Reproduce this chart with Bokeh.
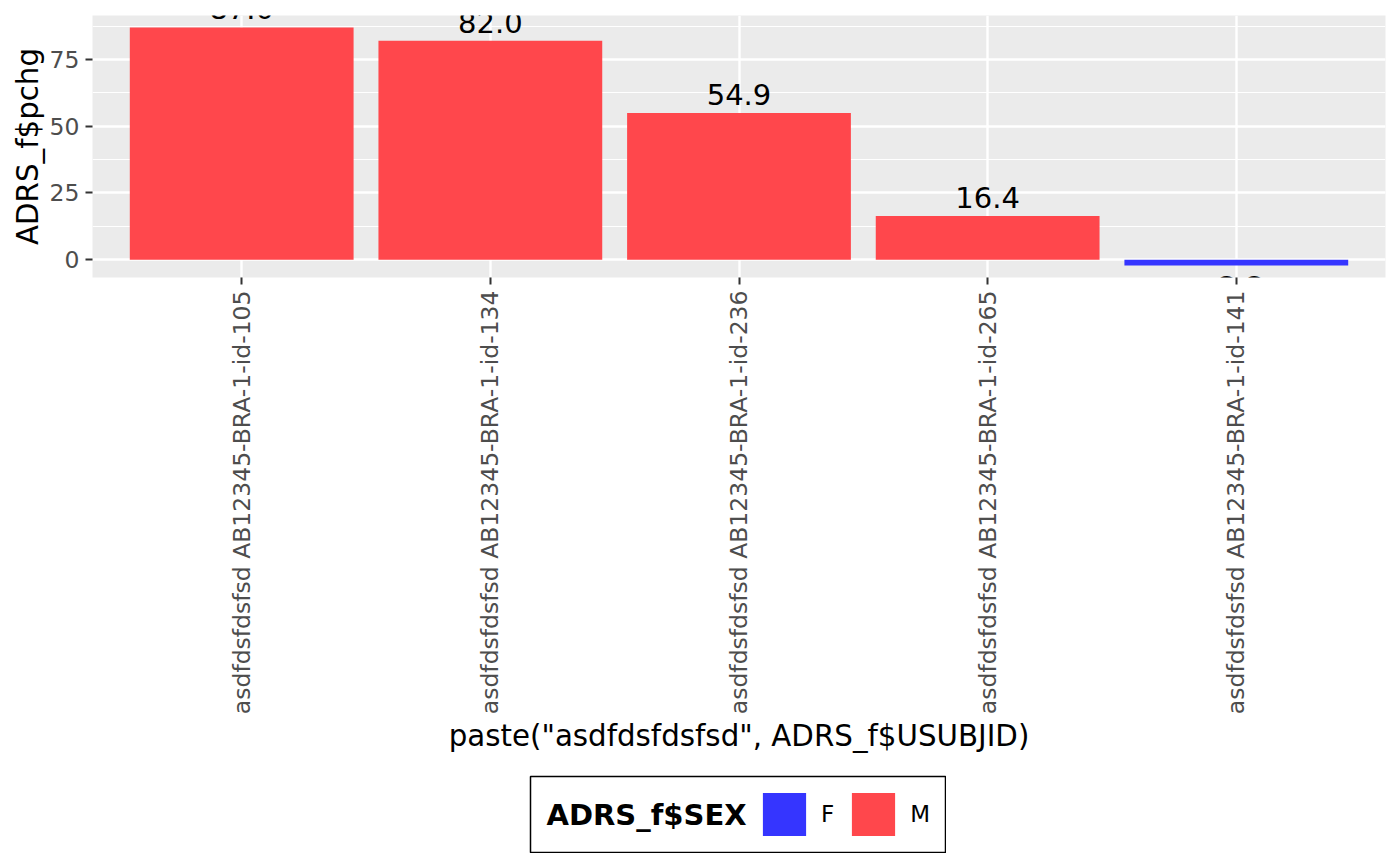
import numpy as np
from bokeh.plotting import figure
from bokeh.layouts import column, row
from bokeh.models import (ColumnDataSource, Range1d, FixedTicker, SingleIntervalTicker,
                          Legend, LegendItem, CDSView, GroupFilter, BooleanFilter, Label, Spacer)
from bokeh.core.properties import value
from bokeh.embed import file_html
from bokeh.resources import INLINE

# ---------------- data ----------------
prefix = "asdfdsfdsfsd"
subjects = ["AB12345-BRA-1-id-105", "AB12345-BRA-1-id-134", "AB12345-BRA-1-id-236",
            "AB12345-BRA-1-id-265", "AB12345-BRA-1-id-141"]
pchg = [87.0, 82.0, 54.9, 16.4, -2.2]
sex = ["M", "M", "M", "M", "F"]
sex_levels = ["F", "M"]
sex_colors = ["#3535FF", "#FF474C"]

x_title = 'paste("asdfdsfdsfsd", ADRS_f$USUBJID)'
y_title = "ADRS_f$pchg"
legend_title = "ADRS_f$SEX"

# ---------------- derived ----------------
cat_labels = [f"{prefix} {s}" for s in subjects]
xpos = list(range(1, len(cat_labels) + 1))
vals = np.array(pchg)
lo = min(0.0, vals.min())
hi = max(0.0, vals.max())
span = hi - lo
color_map = dict(zip(sex_levels, sex_colors))

src = ColumnDataSource(dict(
    x=xpos, y=pchg, sex=sex,
    lab=[f"{v:.1f}" for v in pchg],
))

FONT = "DejaVu Sans"

p = figure(frame_width=1293, frame_height=262,
           x_range=Range1d(0.4, len(cat_labels) + 0.6),
           y_range=Range1d(lo - 0.05 * span, hi + 0.05 * span),
           output_backend="svg", toolbar_location=None,
           min_border_left=92, min_border_right=15, min_border_top=15, min_border_bottom=498)

p.background_fill_color = "#EBEBEB"
p.border_fill_color = "white"
p.outline_line_color = None

# bars by sex
for lvl in sex_levels:
    view = CDSView(filter=GroupFilter(column_name="sex", group=lvl))
    p.vbar(x="x", top="y", bottom=0, width=0.9, source=src, view=view,
           fill_color=color_map[lvl], line_color=None)

# value labels
pos_mask = [v >= 0 for v in pchg]
neg_mask = [v < 0 for v in pchg]
p.text(x="x", y="y", text="lab", source=src, view=CDSView(filter=BooleanFilter(pos_mask)),
       text_font=value(FONT), text_font_size="29px", text_color="black",
       text_align="center", text_baseline="bottom", y_offset=-8)
p.text(x="x", y="y", text="lab", source=src, view=CDSView(filter=BooleanFilter(neg_mask)),
       text_font=value(FONT), text_font_size="29px", text_color="black",
       text_align="center", text_baseline="top", y_offset=10)

# axes
p.xaxis.ticker = FixedTicker(ticks=xpos)
p.xaxis.major_label_overrides = {x: l for x, l in zip(xpos, cat_labels)}
p.xaxis.major_label_orientation = np.pi / 2
p.yaxis.ticker = SingleIntervalTicker(interval=25, num_minor_ticks=2)

for ax in (p.xaxis[0], p.yaxis[0]):
    ax.axis_line_color = None
    ax.major_tick_line_color = "#333333"
    ax.major_tick_line_width = 2
    ax.major_tick_out = 7
    ax.major_tick_in = 0
    ax.minor_tick_line_color = None
    ax.major_label_text_font = FONT
    ax.major_label_text_font_size = "23.5px"
    ax.major_label_text_color = "#4D4D4D"
    ax.major_label_standoff = 6
    ax.axis_label_text_font = FONT
    ax.axis_label_text_font_size = "29.3px"
    ax.axis_label_text_font_style = "normal"
    ax.axis_label_text_color = "black"
    ax.axis_label_standoff = 2

p.xaxis.axis_label = x_title
p.yaxis.axis_label = y_title

# grid
p.xgrid.ticker = FixedTicker(ticks=xpos)
p.xgrid.grid_line_color = "white"
p.xgrid.grid_line_width = 2.4
p.ygrid.grid_line_color = "white"
p.ygrid.grid_line_width = 2.4
p.ygrid.minor_grid_line_color = "white"
p.ygrid.minor_grid_line_width = 1.2

# ---------------- legend panel ----------------
lg = figure(width=417, height=78, min_border=1,
            x_range=Range1d(0, 1), y_range=Range1d(0, 1),
            x_axis_type=None, y_axis_type=None,
            output_backend="svg", toolbar_location=None)
lg.grid.visible = False
lg.background_fill_color = "white"
lg.border_fill_color = "white"
lg.outline_line_color = "black"
lg.outline_line_width = 1.5

# zero-height key renderers (only their legend glyphs are seen)
key_renderers = {}
for lvl in sex_levels:
    view = CDSView(filter=GroupFilter(column_name="sex", group=lvl))
    key_renderers[lvl] = lg.vbar(x="x", top=0, bottom=0, width=0.9, source=src, view=view,
                                 fill_color=color_map[lvl], line_color=None)

lg.add_layout(Label(x=16, y=38, x_units="screen", y_units="screen", text=legend_title,
                    text_font=FONT, text_font_size="29px", text_font_style="bold",
                    text_color="black", text_align="left", text_baseline="middle"))

items = [LegendItem(label=lvl, renderers=[key_renderers[lvl]]) for lvl in sex_levels]
legend = Legend(items=items, orientation="horizontal", location=(227, 11),
                label_text_font=FONT, label_text_font_size="23px", label_text_color="black",
                glyph_width=54, glyph_height=54, label_standoff=10, label_width=0,
                spacing=12, padding=0, margin=0,
                border_line_color=None, background_fill_alpha=0)
lg.add_layout(legend, "center")

layout = column(p, row(Spacer(width=529, height=78), lg))

open("out.html", "w").write(file_html(layout, INLINE))
